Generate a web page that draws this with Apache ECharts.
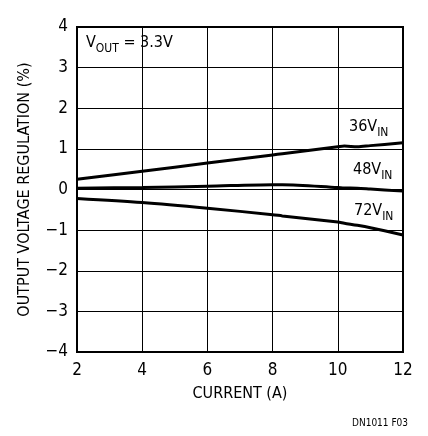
<!DOCTYPE html>
<html>
<head>
<meta charset="utf-8">
<script src="https://cdn.jsdelivr.net/npm/echarts@6/dist/echarts.min.js"></script>
<style>
  html, body { margin: 0; padding: 0; background: #fff; }
  #chart { width: 428px; height: 436px; }
</style>
</head>
<body>
<div id="chart"></div>
<script>
// current (A) and output regulation (%)
const current = [2, 4, 6, 8, 8.3, 10, 10.2, 10.6, 11, 12];
const reg36 = [0.25, 0.45, 0.65, 0.85, 0.88, 1.05, 1.07, 1.05, 1.08, 1.15];
const reg48 = [0.03, 0.05, 0.08, 0.12, 0.12, 0.05, 0.04, 0.03, 0.01, -0.04];
const reg72 = [-0.22, -0.32, -0.46, -0.62, -0.65, -0.8, -0.83, -0.88, -0.94, -1.12];
const yTicks = ['\u22124', '\u22123', '\u22122', '\u22121', '0', '1', '2', '3', '4'];

const font = '"Liberation Sans Narrow", "DejaVu Sans Condensed", "Liberation Sans", sans-serif';

function pairs(ys) {
  return current.map((x, i) => [x, ys[i]]);
}

function curve(name, ys) {
  return {
    name: name,
    type: 'line',
    data: pairs(ys),
    smooth: 0.3,
    symbol: 'none',
    lineStyle: {color: '#000', width: 3},
    z: 5
  };
}

const chart = echarts.init(document.getElementById('chart'), null, {renderer: 'canvas'});

const sub = {
  fontFamily: font, fontSize: 12, color: '#000', verticalAlign: 'bottom', padding: [0, 0, -4, 0]
};
const big = {fontFamily: font, fontSize: 16, color: '#000'};

chart.setOption({
  animation: false,
  grid: {left: 77, right: 25, top: 27, bottom: 84},
  xAxis: {
    type: 'value',
    min: 2, max: 12, interval: 2,
    name: 'CURRENT (A)',
    nameLocation: 'middle',
    nameGap: 34,
    nameTextStyle: {fontFamily: font, fontSize: 16, color: '#000'},
    axisLine: {show: false},
    axisTick: {show: false},
    axisLabel: {fontFamily: font, fontSize: 17, color: '#000', margin: 10},
    splitLine: {show: true, lineStyle: {color: '#000', width: 1}}
  },
  yAxis: {
    type: 'value',
    min: -4, max: 4, interval: 1,
    name: 'OUTPUT VOLTAGE REGULATION (%)',
    nameLocation: 'middle',
    nameGap: 44,
    nameTextStyle: {fontFamily: font, fontSize: 16, color: '#000'},
    axisLine: {show: false},
    axisTick: {show: false},
    axisLabel: {
      fontFamily: font, fontSize: 17, color: '#000', margin: 9,
      formatter: v => yTicks[v + 4]
    },
    splitLine: {show: true, lineStyle: {color: '#000', width: 1}}
  },
  series: [
    curve('36V', reg36),
    curve('48V', reg48),
    curve('72V', reg72)
  ],
  graphic: [
    {
      type: 'rect', shape: {x: 77, y: 27, width: 326, height: 325},
      style: {fill: 'none', stroke: '#000', lineWidth: 2}, z: 10
    },
    {
      type: 'text', left: 86, top: 35, z: 10,
      style: {
        text: '{a|V}{s|OUT}{a| = 3.3V}',
        rich: {a: big, s: sub}
      }
    },
    {
      type: 'text', left: 349, top: 119, z: 10,
      style: {text: '{a|36V}{s|IN}', rich: {a: big, s: sub}}
    },
    {
      type: 'text', left: 353, top: 162, z: 10,
      style: {text: '{a|48V}{s|IN}', rich: {a: big, s: sub}}
    },
    {
      type: 'text', left: 354, top: 203, z: 10,
      style: {text: '{a|72V}{s|IN}', rich: {a: big, s: sub}}
    },
    {
      type: 'text', left: 352, top: 418, z: 10,
      style: {text: 'DN1011 F03', fontFamily: font, fontSize: 10, fill: '#000'}
    }
  ]
});
</script>
</body>
</html>
